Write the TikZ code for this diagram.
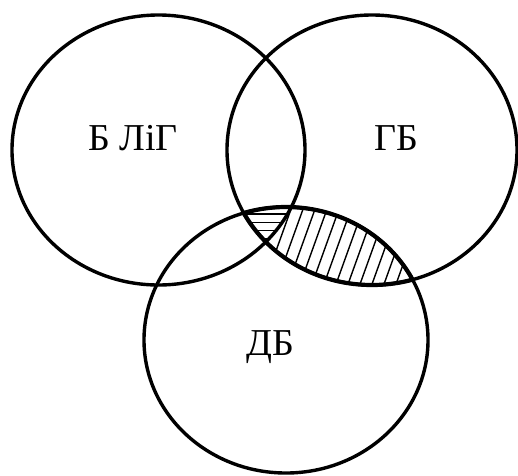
\documentclass[tikz,border=0pt]{standalone}
\usepackage{fontspec}
\setmainfont{Liberation Serif}
\begin{document}
\begin{tikzpicture}[x=1pt,y=-1pt,
  ring/.style={draw=black,line width=3.4pt},
  edge/.style={draw=black,line width=4.2pt},
  hatch/.style={draw=black,line width=1.4pt},
  lbl/.style={font=\fontsize{38}{38}\selectfont,inner sep=0pt,anchor=base}]
\useasboundingbox (0,0) rectangle (518,475);
\def\EL{(158.5,150) ellipse [x radius=146.5,y radius=135]}
\def\ER{(372,150) ellipse [x radius=145,y radius=135]}
\def\EB{(286,340) ellipse [x radius=142,y radius=133]}
% horizontal hatching: all three
\begin{scope}
  \clip \EL; \clip \ER; \clip \EB;
  \foreach \k in {0,...,6} \draw[hatch] (200,205.7+8.3*\k) -- (330,205.7+8.3*\k);
\end{scope}
% diagonal hatching: right and bottom, outside left
\begin{scope}
  \clip \ER; \clip \EB;
  \begin{scope}[even odd rule]
  \clip (0,0) rectangle (518,475) \EL;
  \foreach \k in {-4,...,16} \draw[hatch] (288.3+12*\k-18,300) -- (288.3+12*\k+18,200);
  \end{scope}
\end{scope}
\draw[ring] \EL;
\draw[ring] \ER;
\draw[ring] \EB;
% bolder outline of the hatched lens
\begin{scope}
  \clip \ER;
  \draw[edge] \EB;
\end{scope}
\begin{scope}
  \clip \EB;
  \draw[edge] \ER;
\end{scope}
\node[lbl] (a) at (133,150) {Б ЛіГ};
\node[lbl] (b) at (396,150) {ГБ};
\node[lbl] (c) at (270,355) {ДБ};
\end{tikzpicture}
\end{document}
